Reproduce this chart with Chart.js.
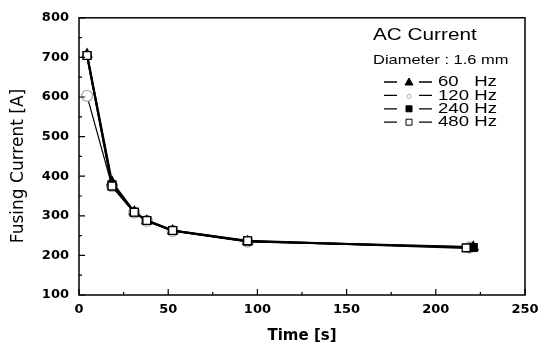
<!DOCTYPE html>
<html lang="en">
  <head>
    <meta charset="UTF-8" />
    <title>Fusing Current</title>
    <script src="https://cdn.jsdelivr.net/npm/chart.js"></script>
    <style>
      body {
        margin: 0;
        padding: 0;
        background: #fff;
      }
      .chart-container {
        position: relative;
        width: 551px;
        height: 345px;
      }
    </style>
  </head>
  <body>
    <div class="chart-container">
      <canvas id="fusing-chart"></canvas>
    </div>

    <script>
      // values
      const time60 = [4.5, 18.5, 31, 38, 52.5, 94.5, 221];
      const amps60 = [708, 385, 310, 287, 262, 235, 221];
      const time120 = [4.5, 18.5, 31, 38, 52.5, 94.5, 219];
      const amps120 = [603, 375, 308, 287, 262, 235, 220];
      const time240 = [4.5, 18.5, 31, 38, 52.5, 94.5, 221];
      const amps240 = [705, 378, 309, 288, 263, 236, 220];
      const time480 = [4.5, 18.5, 31, 38, 52.5, 94.5, 217];
      const amps480 = [705, 375, 309, 288, 263, 237, 219];
      const legendLabels = ["60   Hz", "120 Hz", "240 Hz", "480 Hz"];
      const xTicks = [0, 50, 100, 150, 200, 250];
      const yTicks = [100, 200, 300, 400, 500, 600, 700, 800];

      const toPoints = (xs, ys) => xs.map((x, i) => ({ x, y: ys[i] }));

      // inward major and minor ticks, plus the frame
      const frameTicks = {
        id: "frameTicks",
        afterDatasetsDraw(chart) {
          const ctx = chart.ctx;
          const { left, right, top, bottom } = chart.chartArea;
          const xs = chart.scales.x;
          const ys = chart.scales.y;
          ctx.save();
          ctx.strokeStyle = "#000";
          ctx.lineWidth = 1.5;
          ctx.strokeRect(left, top, right - left, bottom - top);
          ctx.lineWidth = 1.2;
          ctx.beginPath();
          for (let v = 0; v <= 250; v += 25) {
            const px = xs.getPixelForValue(v);
            const len = v % 50 === 0 ? 6 : 3;
            ctx.moveTo(px, bottom);
            ctx.lineTo(px, bottom - len);
          }
          for (let v = 100; v <= 800; v += 50) {
            const py = ys.getPixelForValue(v);
            const len = v % 100 === 0 ? 6 : 3;
            ctx.moveTo(left, py);
            ctx.lineTo(left + len, py);
          }
          ctx.stroke();
          ctx.restore();
        },
      };

      // stretched text, the scan's lettering is wide
      function wideText(ctx, text, x, y, font, sx) {
        ctx.save();
        ctx.font = font;
        ctx.translate(x, y);
        ctx.scale(sx, 1);
        ctx.fillText(text, 0, 0);
        ctx.restore();
      }

      // y title (sits a bit below the plot middle) and legend box
      const sideLegend = {
        id: "sideLegend",
        afterDraw(chart) {
          const ctx = chart.ctx;
          ctx.save();
          ctx.fillStyle = "#000";
          ctx.textBaseline = "middle";

          ctx.save();
          ctx.translate(19, 166);
          ctx.rotate(-Math.PI / 2);
          ctx.textAlign = "center";
          ctx.font = "17px DejaVu Sans";
          ctx.fillText("Fusing Current [A]", 0, 0);
          ctx.restore();

          wideText(ctx, "AC Current", 373, 35, "17px Arial", 1.22);
          wideText(ctx, "Diameter : 1.6 mm", 373, 60, "13.5px Arial", 1.22);
          chart.data.datasets.forEach((ds, i) => {
            const y = 82 + i * 13.4;
            ctx.strokeStyle = "#000";
            ctx.lineWidth = 1.3;
            ctx.beginPath();
            ctx.moveTo(384, y);
            ctx.lineTo(397, y);
            ctx.moveTo(419, y);
            ctx.lineTo(432, y);
            ctx.stroke();
            ctx.beginPath();
            if (ds.pointStyle === "triangle") {
              ctx.moveTo(409, y - 4);
              ctx.lineTo(413, y + 3);
              ctx.lineTo(405, y + 3);
            } else if (ds.pointStyle === "circle") {
              ctx.arc(409, y + 1, 2, 0, Math.PI * 2);
            } else {
              ctx.rect(406, y - 3, 6, 6);
            }
            ctx.closePath();
            ctx.fillStyle = ds.pointBackgroundColor;
            ctx.strokeStyle = ds.pointBorderColor;
            ctx.lineWidth = 1;
            ctx.fill();
            ctx.stroke();
            ctx.fillStyle = "#000";
            wideText(ctx, legendLabels[i], 438, y, "15.5px Arial", 1.2);
          });
          ctx.restore();
        },
      };

      const baseSet = {
        borderColor: "#000",
        borderWidth: 2,
        pointRadius: 5.5,
        pointBorderWidth: 1.3,
        pointBorderColor: "#000",
        tension: 0,
        showLine: true,
      };

      new Chart(document.getElementById("fusing-chart"), {
        type: "scatter",
        data: {
          datasets: [
            {
              ...baseSet,
              label: legendLabels[0],
              data: toPoints(time60, amps60),
              pointStyle: "triangle",
              pointBackgroundColor: "#000",
              order: 3,
            },
            {
              ...baseSet,
              label: legendLabels[1],
              data: toPoints(time120, amps120),
              borderWidth: 1.2,
              pointStyle: "circle",
              pointBackgroundColor: "#fff",
              pointBorderColor: "#aaa",
              order: 4,
            },
            {
              ...baseSet,
              label: legendLabels[2],
              data: toPoints(time240, amps240),
              pointStyle: "rect",
              pointBackgroundColor: "#000",
              order: 2,
            },
            {
              ...baseSet,
              label: legendLabels[3],
              data: toPoints(time480, amps480),
              pointStyle: "rect",
              pointBackgroundColor: "#fff",
              order: 1,
            },
          ],
        },
        options: {
          responsive: true,
          maintainAspectRatio: false,
          animation: false,
          layout: {
            padding: { top: 16, right: 26, left: 0, bottom: 0 },
          },
          plugins: {
            legend: { display: false },
            tooltip: { enabled: false },
          },
          scales: {
            x: {
              type: "linear",
              min: 0,
              max: 250,
              afterBuildTicks: (scale) => {
                scale.ticks = xTicks.map((v) => ({ value: v }));
              },
              afterFit: (scale) => {
                scale.height = 50;
              },
              grid: { display: false, drawTicks: false },
              border: { display: false },
              ticks: {
                color: "#000",
                padding: 7,
                font: { family: "DejaVu Sans", size: 13, weight: "bold" },
              },
              title: {
                display: true,
                text: "Time [s]",
                color: "#000",
                padding: { top: 4, bottom: 0 },
                font: { family: "DejaVu Sans", size: 15, weight: "bold" },
              },
            },
            y: {
              min: 100,
              max: 800,
              afterBuildTicks: (scale) => {
                scale.ticks = yTicks.map((v) => ({ value: v }));
              },
              afterFit: (scale) => {
                scale.width = 79;
              },
              grid: { display: false, drawTicks: false },
              border: { display: false },
              ticks: {
                color: "#000",
                padding: 10,
                font: { family: "DejaVu Sans", size: 13, weight: "bold" },
              },
            },
          },
        },
        plugins: [frameTicks, sideLegend],
      });
    </script>
  </body>
</html>
